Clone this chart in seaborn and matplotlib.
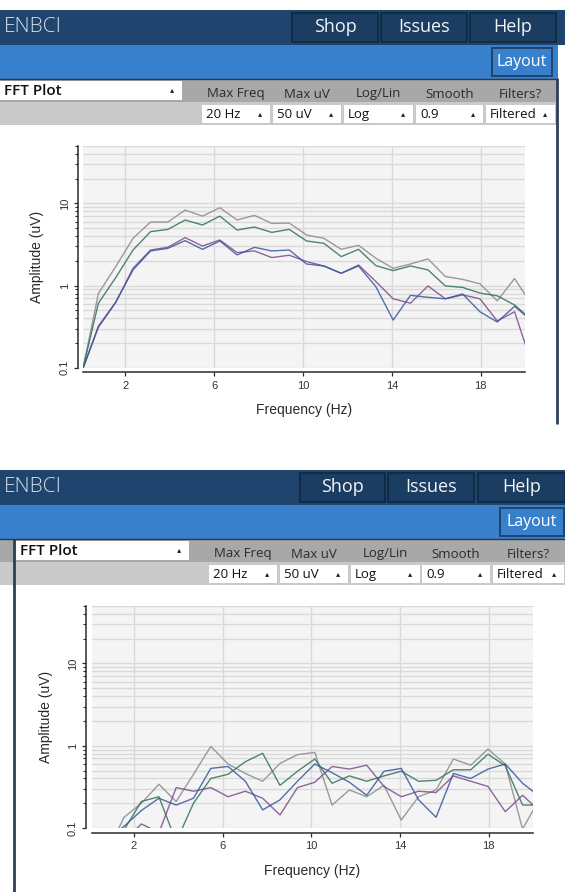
import matplotlib
matplotlib.use("Agg")
import matplotlib.pyplot as plt
from matplotlib.patches import Rectangle
from matplotlib.ticker import FixedLocator, NullLocator, NullFormatter
import numpy as np
import pandas as pd
import seaborn as sns

# ---------------------------------------------------------------- data
# FFT bin centres in Hz (256-point FFT at 200 Hz)
freqs = [0.0, 0.78, 1.56, 2.34, 3.13, 3.91, 4.69, 5.47, 6.25, 7.03, 7.81, 8.59,
         9.38, 10.16, 10.94, 11.72, 12.5, 13.28, 14.06, 14.84, 15.63, 16.41,
         17.19, 17.97, 18.75, 19.53, 20.31]

channels = ["Ch 1", "Ch 2", "Ch 3", "Ch 4"]
channel_colors = ["#8a8a8a", "#7c4b8d", "#36579e", "#31715a"]

# first recording, amplitude in uV
rec1_ch1 = [0.075, 0.80, 1.70, 3.76, 5.93, 5.93, 8.30, 7.00, 8.85, 6.28, 7.15, 5.71,
            5.76, 4.12, 3.76, 2.76, 3.09, 2.15, 1.62, 1.83, 2.11, 1.29, 1.19, 1.05,
            0.65, 1.22, 0.58]
rec1_ch2 = [0.085, 0.31, 0.62, 1.62, 2.71, 2.92, 3.83, 3.03, 3.59, 2.52, 2.64, 2.19,
            2.34, 1.96, 1.73, 1.41, 1.78, 1.12, 0.69, 0.61, 0.99, 0.69, 0.77, 0.69,
            0.37, 0.48, 0.11]
rec1_ch3 = [0.085, 0.32, 0.63, 1.55, 2.64, 2.84, 3.52, 2.76, 3.49, 2.36, 2.92, 2.64,
            2.71, 1.83, 1.73, 1.41, 1.73, 0.97, 0.38, 0.76, 0.72, 0.69, 0.79, 0.48,
            0.36, 0.56, 0.37]
rec1_ch4 = [0.078, 0.61, 1.25, 2.71, 4.53, 4.83, 6.28, 5.46, 7.00, 4.74, 5.16, 4.44,
            4.83, 3.49, 3.27, 2.25, 2.76, 1.75, 1.52, 1.73, 1.55, 0.99, 0.95, 0.81,
            0.75, 0.58, 0.38]

# second recording, amplitude in uV
rec2_ch1 = [0.02, 0.05, 0.135, 0.20, 0.34, 0.21, 0.45, 0.98, 0.60, 0.46, 0.37, 0.61,
            0.78, 0.83, 0.19, 0.29, 0.24, 0.33, 0.125, 0.24, 0.29, 0.69, 0.58, 0.91,
            0.60, 0.097, 0.23]
rec2_ch2 = [0.02, 0.05, 0.07, 0.112, 0.088, 0.31, 0.28, 0.31, 0.24, 0.28, 0.23, 0.144,
            0.31, 0.36, 0.56, 0.52, 0.58, 0.32, 0.24, 0.28, 0.27, 0.43, 0.37, 0.32,
            0.158, 0.25, 0.16]
rec2_ch3 = [0.02, 0.07, 0.105, 0.163, 0.23, 0.19, 0.23, 0.53, 0.56, 0.37, 0.166, 0.22,
            0.37, 0.60, 0.47, 0.36, 0.25, 0.49, 0.53, 0.22, 0.135, 0.46, 0.40, 0.52,
            0.60, 0.35, 0.24]
rec2_ch4 = [0.02, 0.05, 0.095, 0.21, 0.24, 0.068, 0.20, 0.40, 0.45, 0.64, 0.81, 0.33,
            0.49, 0.69, 0.35, 0.43, 0.37, 0.43, 0.49, 0.37, 0.38, 0.51, 0.51, 0.79,
            0.57, 0.19, 0.19]

x_ticks = [2, 6, 10, 14, 18]
x_tick_labels = ["2", "6", "10", "14", "18"]
y_ticks = [0.1, 1, 10]
y_tick_labels = ["0.1", "1", "10"]
y_minor_ticks = [0.2, 0.3, 0.4, 0.5, 0.6, 0.7, 0.8, 0.9,
                 2, 3, 4, 5, 6, 7, 8, 9, 20, 30, 40, 50]
freq_range = (0.1, 20)
amp_range = (0.1, 50)

app_name = "ENBCI"
menu_buttons = ["Shop", "Issues", "Help"]
layout_button = "Layout"
widget_name = "FFT Plot"
control_titles = ["Max Freq", "Max uV", "Log/Lin", "Smooth", "Filters?"]
control_values = ["20 Hz", "50 uV", "Log", "0.9", "Filtered"]

# ---------------------------------------------------------------- style
sns.set_theme(style="ticks")
plt.rcParams["font.family"] = ["Liberation Sans", "DejaVu Sans"]
UI_FONT = ["Open Sans", "DejaVu Sans"]
ARROW_FONT = ["DejaVu Sans"]

W, H = 565, 892
fig = plt.figure(figsize=(W / 100, H / 100), dpi=100)
fig.patch.set_facecolor("white")

ui = fig.add_axes([0, 0, 1, 1])
ui.set_xlim(0, W)
ui.set_ylim(H, 0)
ui.axis("off")
ui.set_zorder(0)

NAVY = "#1f456e"
NAVY_BTN = "#1b3d62"
NAVY_EDGE = "#0f2740"
LIGHT_BLUE = "#3980cc"
HEADER_GRAY = "#a8a8a8"
ROW_GRAY = "#c9c9c9"


def box(x0, y0, x1, y1, fc, ec="none", lw=0.0, z=1):
    ui.add_patch(Rectangle((x0, y0), x1 - x0, y1 - y0, facecolor=fc,
                           edgecolor=ec, linewidth=lw, zorder=z))


def label(x, y, s, size, color="#222222", ha="center", family=UI_FONT,
          weight="normal", z=5):
    ui.text(x, y, s, fontsize=size, color=color, ha=ha, va="center",
            family=family, fontweight=weight, zorder=z)


def draw_chrome(p):
    top = p["top"]
    # dark navigation bar
    box(0, top, W, top + 35, NAVY)
    label(p["name_x"], top + 17, app_name, 15, color="#d5dfea", ha="left",
          weight="light")
    for name, (x0, x1) in zip(menu_buttons, p["menu"]):
        box(x0, top + 3, x1, top + 32, NAVY_BTN, NAVY_EDGE, 1.2, z=2)
        label((x0 + x1) / 2, top + 17, name, 13, color="#f2f5f8")
    # light blue bar with layout button
    box(0, top + 35, p["blue_right"], top + 69, LIGHT_BLUE)
    lx0, lx1 = p["layout"]
    box(lx0, top + 38, lx1, top + 66, LIGHT_BLUE, NAVY, 1.4, z=2)
    label((lx0 + lx1) / 2, top + 52, layout_button, 11.5, color="white")
    # widget header rows
    box(p["bar_left"], top + 69, p["bar_right"], top + 92, HEADER_GRAY)
    box(p["bar_left"], top + 92, p["bar_right"], top + 115, ROW_GRAY)
    ui.plot([p["bar_left"], p["bar_right"]], [top + 69, top + 69],
            color="#2a3a4c", lw=1.0, zorder=3)
    fx0, fx1 = p["widget_box"]
    box(fx0, top + 71, fx1, top + 90, "white", z=2)
    label(fx0 + 4, top + 81, widget_name, 11, color="#111111", ha="left",
          weight="semibold")
    label(fx1 - 10, top + 80, "\u25b4", 6, color="#222222", family=ARROW_FONT)
    for title, value, (x0, x1) in zip(control_titles, control_values,
                                      p["controls"]):
        label((x0 + x1) / 2, top + 84, title, 9.5, color="#2b2b2b")
        box(x0, top + 95, x1, top + 113, "white", z=2)
        label(x0 + 4, top + 104.5, value, 9.5, color="#111111", ha="left")
        label(x1 - 10, top + 103.5, "\u25b4", 6, color="#222222",
              family=ARROW_FONT)
    for (x, y0, y1) in p["borders"]:
        ui.plot([x, x], [y0, y1], color="#2e3f55", lw=2.0, zorder=3,
                solid_capstyle="butt")


def draw_fft(area, series):
    l, t, r, b = area
    ax = fig.add_axes([l / W, 1 - b / H, (r - l) / W, (b - t) / H])
    ax.set_zorder(2)
    df = pd.DataFrame({
        "freq": np.tile(freqs, len(channels)),
        "amp": np.concatenate(series),
        "channel": np.repeat(channels, len(freqs)),
    })
    ax.set_facecolor("#f4f4f4")
    ax.set_yscale("log")
    sns.lineplot(data=df, x="freq", y="amp", hue="channel",
                 palette=dict(zip(channels, channel_colors)),
                 estimator=None, sort=False, linewidth=1.0, alpha=0.85,
                 legend=False, ax=ax)
    ax.set_xlim(*freq_range)
    ax.set_ylim(*amp_range)

    ax.set_xticks(x_ticks)
    ax.set_xticklabels(x_tick_labels)
    ax.xaxis.set_minor_locator(NullLocator())
    ax.set_yticks(y_ticks)
    ax.set_yticklabels(y_tick_labels)
    ax.yaxis.set_minor_locator(FixedLocator(y_minor_ticks))
    ax.yaxis.set_minor_formatter(NullFormatter())

    ax.grid(True, which="both", axis="y", color="#d9d9d9", lw=0.95)
    ax.grid(True, which="major", axis="x", color="#d9d9d9", lw=0.95)
    ax.set_axisbelow(True)

    for side in ("top", "right"):
        ax.spines[side].set_visible(False)
    ax.spines["left"].set_position(("outward", 3.8))
    ax.spines["bottom"].set_position(("outward", 3.4))
    for side in ("left", "bottom"):
        ax.spines[side].set_color("#2b2b2b")
        ax.spines[side].set_linewidth(1.1)

    ax.tick_params(axis="both", which="major", direction="out", length=3,
                   width=0.9, color="#2b2b2b", labelcolor="#333333",
                   labelsize=8, pad=3)
    ax.tick_params(axis="y", which="major", labelrotation=90)
    for lab in ax.get_yticklabels():
        lab.set_va("center")
    ax.tick_params(axis="y", which="minor", direction="out", length=2.2,
                   width=0.8, color="#2b2b2b")
    ax.set_xlabel("Frequency (Hz)", fontsize=10, color="#2a2a2a", labelpad=9)
    ax.set_ylabel("Amplitude (uV)", fontsize=10, color="#2a2a2a", labelpad=11)
    return ax


top_panel = {
    "top": 10, "name_x": 4,
    "menu": [(292, 378), (381, 467), (470, 556)],
    "blue_right": 558, "layout": (492, 552),
    "bar_left": 0, "bar_right": 557, "widget_box": (0, 182),
    "controls": [(202, 270), (273, 341), (344, 413), (416, 483), (486, 555)],
    "borders": [(557, 78, 424)],
    "plot": (83.3, 146, 525, 367.7),
}
bottom_panel = {
    "top": 470, "name_x": 4,
    "menu": [(300, 385), (388, 474), (478, 565)],
    "blue_right": W, "layout": (500, 564),
    "bar_left": 0, "bar_right": W, "widget_box": (16, 189),
    "controls": [(209, 277), (280, 348), (351, 420), (422, 490), (493, 564)],
    "borders": [(14, 539, H)],
    "plot": (91.7, 606, 533, 828),
}

draw_chrome(top_panel)
draw_fft(top_panel["plot"], [rec1_ch1, rec1_ch2, rec1_ch3, rec1_ch4])
draw_chrome(bottom_panel)
draw_fft(bottom_panel["plot"], [rec2_ch1, rec2_ch2, rec2_ch3, rec2_ch4])

fig.savefig("out.png", dpi=100)
